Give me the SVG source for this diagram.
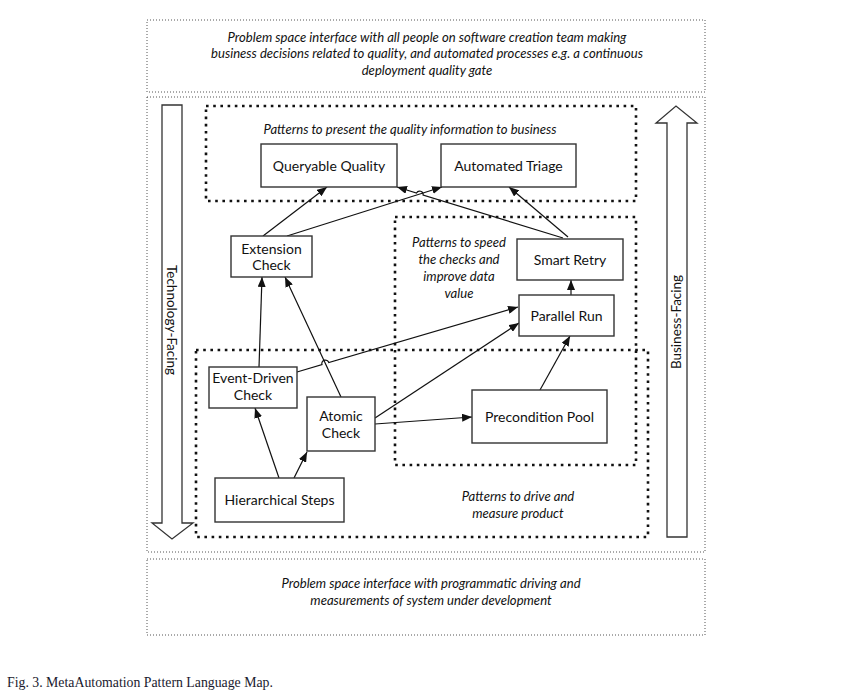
<svg xmlns="http://www.w3.org/2000/svg" width="855" height="699" viewBox="0 0 855 699">
<style>
.outer{fill:none;stroke:#555;stroke-width:1;stroke-dasharray:1 2}
.grp{fill:none;stroke:#111;stroke-width:2.6;stroke-dasharray:2.6 4.6}
.node rect{fill:#fff;stroke:#333;stroke-width:1.4}
.node text{font-family:Lato,"Open Sans",sans-serif;font-size:14px;fill:#111;text-anchor:middle}
.lbl{font-family:Lato,"Open Sans",sans-serif;font-style:italic;font-size:13.1px;fill:#111;text-anchor:middle}
.bar{fill:#fff;stroke:#333;stroke-width:1.3}
.side{font-family:Lato,"Open Sans",sans-serif;font-size:13.5px;fill:#111;text-anchor:middle}
.edge{fill:none;stroke:#111;stroke-width:1.2;marker-end:url(#ah)}
.cap{font-family:"Liberation Serif",serif;font-size:13.8px;fill:#1a1a2e}
</style>
<defs>
<marker id="ah" markerUnits="userSpaceOnUse" markerWidth="10" markerHeight="8" refX="10" refY="4" orient="auto">
<path d="M0,0 L10,4 L0,8 z" fill="#111"/>
</marker>
</defs>
<rect width="855" height="699" fill="#fff"/>
<g id="bands">
<rect class="outer" x="147" y="20" width="558" height="72"/>
<rect class="outer" x="147" y="97" width="558" height="455"/>
<rect class="outer" x="147" y="559" width="558" height="76"/>
<text class="lbl" x="427" y="42">Problem space interface with all people on software creation team making</text>
<text class="lbl" x="427" y="58">business decisions related to quality, and automated processes e.g. a continuous</text>
<text class="lbl" x="427" y="75">deployment quality gate</text>
<text class="lbl" x="431" y="588">Problem space interface with programmatic driving and</text>
<text class="lbl" x="431" y="605">measurements of system under development</text>
</g>
<g id="tech-facing">
<polygon class="bar" points="162,105 182,105 182,523 193,523 172,539 152,523 162,523"/>
<text class="side" transform="translate(172,320) rotate(90)" y="5">Technology-Facing</text>
</g>
<g id="business-facing">
<polygon class="bar" points="667,537 687,537 687,123 697,123 676,106 656,123 667,123"/>
<text class="side" transform="translate(676,322) rotate(-90)" y="5">Business-Facing</text>
</g>
<g id="group-present">
<rect class="grp" x="206" y="106" width="430" height="95"/>
<text class="lbl" x="410" y="134">Patterns to present the quality information to business</text>
</g>
<g id="group-speed">
<rect class="grp" x="395" y="217" width="241" height="248"/>
<text class="lbl" x="459" y="247">Patterns to speed</text>
<text class="lbl" x="459" y="264">the checks and</text>
<text class="lbl" x="459" y="281">improve data</text>
<text class="lbl" x="459" y="298">value</text>
</g>
<g id="group-drive">
<rect class="grp" x="196" y="350" width="452" height="187"/>
<text class="lbl" x="518" y="501">Patterns to drive and</text>
<text class="lbl" x="518" y="518">measure product</text>
</g>
<g id="connectors">
<path class="edge" d="M263,236 L327,187"/>
<path class="edge" d="M287,236 L442,187"/>
<path class="edge" d="M563,238 L423.1,195 A3.5,3.5 0 0 0 416.5,193 L397,187"/>
<path class="edge" d="M568,237 L509,187"/>
<path class="edge" d="M259,367 L262,277"/>
<path class="edge" d="M341,397 L285,277"/>
<path class="edge" d="M297,372 L322,364.6 A3.5,3.5 0 0 1 328.8,362.6 L518,307"/>
<path class="edge" d="M375,418 L519,323"/>
<path class="edge" d="M375,424 L472,417"/>
<path class="edge" d="M540,390 L570,336"/>
<path class="edge" d="M279,478 L255,408"/>
<path class="edge" d="M294,478 L307,452"/>
<path class="edge" d="M571,295 L571,280"/>
</g>
<g id="queryable-quality" class="node"><rect x="261" y="144" width="136" height="43"/><text x="329" y="171">Queryable Quality</text></g>
<g id="automated-triage" class="node"><rect x="441" y="144" width="135" height="43"/><text x="508.5" y="171">Automated Triage</text></g>
<g id="extension-check" class="node"><rect x="231" y="236" width="81" height="41"/><text x="271.5" y="254">Extension</text><text x="271.5" y="270">Check</text></g>
<g id="smart-retry" class="node"><rect x="517" y="239" width="106" height="41"/><text x="570" y="265">Smart Retry</text></g>
<g id="parallel-run" class="node"><rect x="519" y="295" width="95" height="41"/><text x="566.5" y="321">Parallel Run</text></g>
<g id="event-driven-check" class="node"><rect x="209" y="367" width="88" height="41"/><text x="253" y="383">Event-Driven</text><text x="253" y="400">Check</text></g>
<g id="atomic-check" class="node"><rect x="307" y="397" width="68" height="54"/><text x="341" y="421">Atomic</text><text x="341" y="438">Check</text></g>
<g id="precondition-pool" class="node"><rect x="472" y="390" width="135" height="53"/><text x="539.5" y="422">Precondition Pool</text></g>
<g id="hierarchical-steps" class="node"><rect x="215" y="478" width="129" height="44"/><text x="279.5" y="505">Hierarchical Steps</text></g>
<text class="cap" x="7" y="687">Fig. 3. MetaAutomation Pattern Language Map.</text>
</svg>
